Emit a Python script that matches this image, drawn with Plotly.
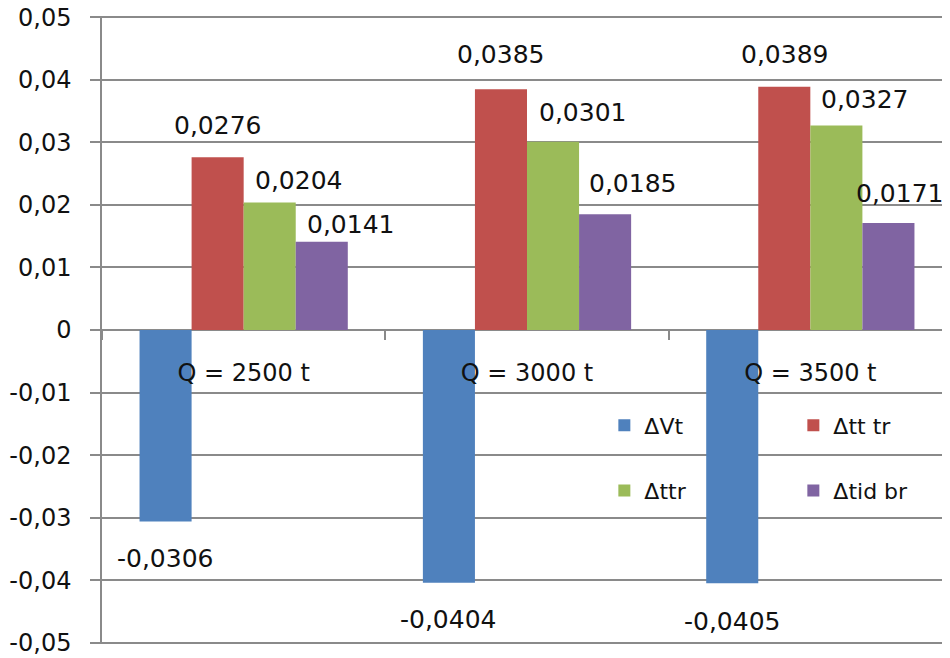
import plotly.graph_objects as go

# ---- data ----
categories = ["Q = 2500 t", "Q = 3000 t", "Q = 3500 t"]
series_names = ["ΔVt", "Δtt tr", "Δttr", "Δtid br"]
dVt = [-0.0306, -0.0404, -0.0405]
dtt_tr = [0.0276, 0.0385, 0.0389]
dttr = [0.0204, 0.0301, 0.0327]
dtid_br = [0.0141, 0.0185, 0.0171]
y_tickvals = [-0.05, -0.04, -0.03, -0.02, -0.01, 0, 0.01, 0.02, 0.03, 0.04, 0.05]
y_ticktext = ["-0,05", "-0,04", "-0,03", "-0,02", "-0,01", "0",
              "0,01", "0,02", "0,03", "0,04", "0,05"]

# ---- styles ----
colors = ["#4F81BD", "#C0504D", "#9BBB59", "#8064A2"]
legend_ids = ["legend", "legend", "legend2", "legend2"]
# label placement (pixel nudges relative to bar end)
label_dx = [[0, 0, 0], [0, 0, 0], [29, 29, 28], [29, 27, 11]]
label_dy = [[37, 37, 38], [32, 35, 32], [22, 29, 26], [17, 31, 30]]
grid_col = "#8a8a8a"
font_family = "DejaVu Sans"
txt_col = "#111111"
bargap = 0.265

all_series = [dVt, dtt_tr, dttr, dtid_br]

fig = go.Figure()
for name, vals, col, lg in zip(series_names, all_series, colors, legend_ids):
    fig.add_trace(go.Bar(x=categories, y=vals, name=name, marker_color=col,
                         marker_line_width=0, legend=lg))

# data labels
n = len(all_series)
bw = (1 - bargap) / n
annotations = []
for j, vals in enumerate(all_series):
    off = -(1 - bargap) / 2 + (j + 0.5) * bw
    for i, v in enumerate(vals):
        dy = label_dy[j][i]
        annotations.append(dict(
            x=i + off, y=v, xref="x", yref="y",
            text=f"{v:.4f}".replace(".", ","),
            showarrow=False, xanchor="center", yanchor="middle",
            xshift=label_dx[j][i], yshift=dy if v >= 0 else -dy,
            font=dict(family=font_family, size=25, color=txt_col)))

fig.update_layout(
    width=950, height=658,
    margin=dict(l=94, r=6, t=8, b=22, autoexpand=False),
    paper_bgcolor="white", plot_bgcolor="white",
    barmode="group", bargap=bargap, bargroupgap=0,
    font=dict(family=font_family, color=txt_col),
    annotations=annotations,
    legend=dict(orientation="h", x=0.591, xanchor="left", y=0.348, yanchor="middle",
                bgcolor="rgba(0,0,0,0)", entrywidth=144, entrywidthmode="pixels",
                font=dict(family=font_family, size=22, color=txt_col)),
    legend2=dict(orientation="h", x=0.591, xanchor="left", y=0.244, yanchor="middle",
                 bgcolor="rgba(0,0,0,0)", entrywidth=144, entrywidthmode="pixels",
                 font=dict(family=font_family, size=22, color=txt_col)),
    xaxis=dict(type="category", anchor="free", position=0.5, range=[-0.5, 2.5],
               showline=False, showgrid=False, ticks="outside", tickson="boundaries",
               ticklen=9, tickcolor=grid_col, tickwidth=1.5, ticklabelstandoff=26,
               automargin=False,
               tickfont=dict(family=font_family, size=24, color=txt_col)),
    yaxis=dict(range=[-0.0502, 0.0502], tickvals=y_tickvals, ticktext=y_ticktext,
               showgrid=True, gridcolor=grid_col, gridwidth=1.5,
               showline=True, linecolor=grid_col, linewidth=1.5,
               zeroline=True, zerolinecolor=grid_col, zerolinewidth=1.5,
               ticks="outside", ticklen=10, tickcolor=grid_col, tickwidth=1.5,
               ticklabelstandoff=14, automargin=False, ticklabeloverflow="allow",
               tickfont=dict(family=font_family, size=24, color=txt_col)),
)

fig.write_html("out.html")
